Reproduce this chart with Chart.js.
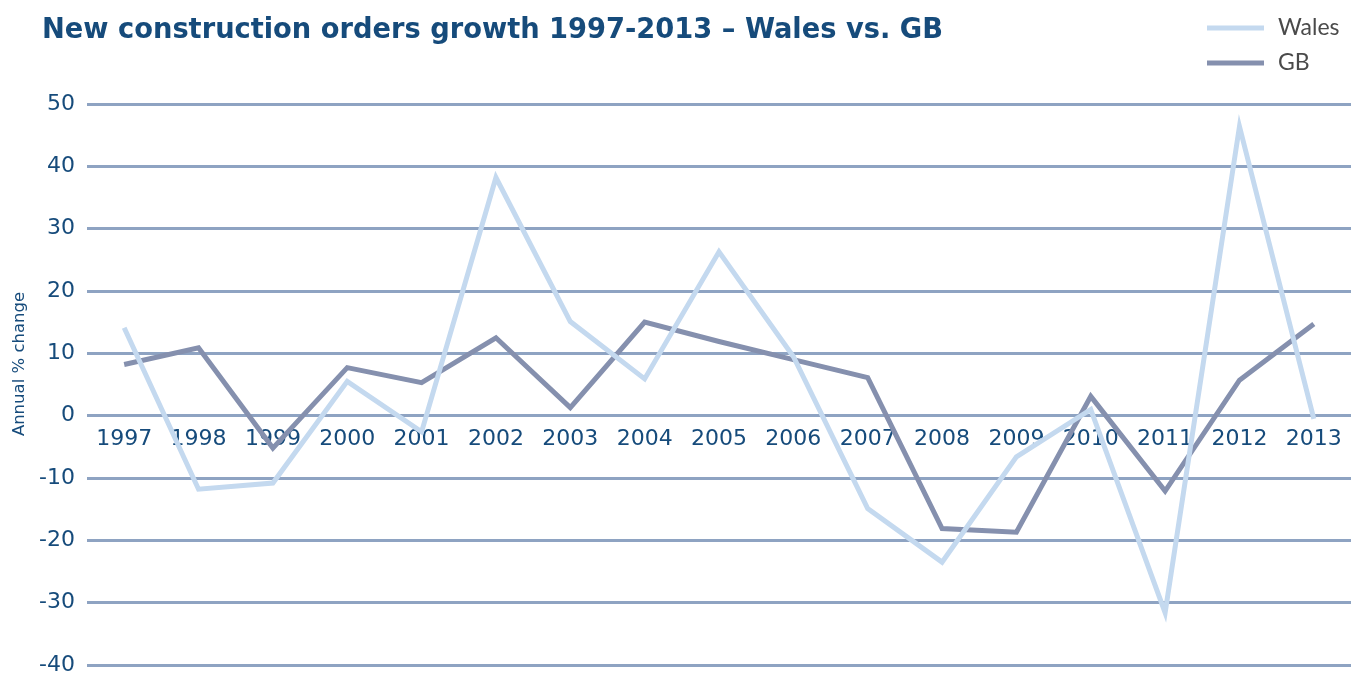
<!DOCTYPE html>
<html>
<head>
<meta charset="utf-8">
<script src="https://cdn.jsdelivr.net/npm/chart.js@4/dist/chart.umd.min.js"></script>
<style>
  html, body { margin: 0; padding: 0; background: #ffffff; }
  #wrap { position: relative; width: 1351px; height: 675px; }
</style>
</head>
<body>
<div id="wrap"><canvas id="chart" width="1351" height="675"></canvas></div>
<script>
// Annual % change in new construction orders
const years = ['1997', '1998', '1999', '2000', '2001', '2002', '2003', '2004', '2005',
               '2006', '2007', '2008', '2009', '2010', '2011', '2012', '2013'];
const wales = [14.1, -11.8, -10.8, 5.5, -2.6, 38.2, 15.1, 5.9, 26.3,
               9.5, -14.9, -23.5, -6.6, 1.0, -31.6, 46.4, -0.5];
const gb = [8.2, 10.9, -5.2, 7.7, 5.3, 12.5, 1.3, 15.0, 11.9,
            9.0, 6.1, -18.1, -18.7, 3.1, -12.1, 5.7, 14.7];
const yTicks = [50, 40, 30, 20, 10, 0, -10, -20, -30, -40];

const titleText = 'New construction orders growth 1997-2013 \u2013 Wales vs. GB';
const yTitleText = 'Annual % change';

const NAVY = '#164b7b';
const WALES_COL = '#c4d9ef';
const GB_COL = '#8590ae';
const GRID_COL = '#8ea3c2';

// Title, rotated axis title and stacked legend drawn around the plot
const decorations = {
  id: 'decorations',
  afterDraw(chart) {
    const ctx = chart.ctx;
    ctx.save();

    // condensed bold title stretched across its line
    ctx.fillStyle = NAVY;
    ctx.font = 'bold 29px "DejaVu Sans Condensed", "Liberation Sans Narrow", "Liberation Sans", sans-serif';
    try { ctx.fontStretch = 'condensed'; } catch (e) {}
    ctx.textAlign = 'left';
    ctx.textBaseline = 'alphabetic';
    const w = ctx.measureText(titleText).width;
    ctx.save();
    ctx.translate(42, 38);
    ctx.scale(901 / w, 1);
    ctx.fillText(titleText, 0, 0);
    ctx.restore();
    try { ctx.fontStretch = 'normal'; } catch (e) {}

    ctx.save();
    ctx.translate(24, 364);
    ctx.rotate(-Math.PI / 2);
    ctx.font = '16.5px "DejaVu Sans", sans-serif';
    ctx.textAlign = 'center';
    ctx.textBaseline = 'alphabetic';
    ctx.fillText(yTitleText, 0, 0);
    ctx.restore();

    chart.data.datasets.forEach((ds, i) => {
      const cy = 28 + i * 35;
      ctx.strokeStyle = ds.borderColor;
      ctx.lineWidth = 5;
      ctx.beginPath();
      ctx.moveTo(1207, cy);
      ctx.lineTo(1264, cy);
      ctx.stroke();
      ctx.fillStyle = '#4a4a4a';
      ctx.font = '23px Lato, sans-serif';
      ctx.textAlign = 'left';
      ctx.textBaseline = 'middle';
      ctx.fillText(ds.label, 1278, cy);
    });
    ctx.restore();
  }
};

new Chart(document.getElementById('chart'), {
  type: 'line',
  data: {
    labels: years,
    datasets: [
      {
        label: 'Wales',
        data: wales,
        borderColor: WALES_COL,
        backgroundColor: WALES_COL,
        borderWidth: 5,
        pointRadius: 0,
        tension: 0,
        borderJoinStyle: 'miter',
        borderCapStyle: 'butt'
      },
      {
        label: 'GB',
        data: gb,
        borderColor: GB_COL,
        backgroundColor: GB_COL,
        borderWidth: 5,
        pointRadius: 0,
        tension: 0,
        borderJoinStyle: 'miter',
        borderCapStyle: 'butt'
      }
    ]
  },
  options: {
    responsive: false,
    animation: false,
    devicePixelRatio: 1,
    layout: { padding: { top: 104, bottom: 10, left: 36, right: 0 } },
    plugins: {
      legend: { display: false },
      title: { display: false },
      tooltip: { enabled: false }
    },
    scales: {
      x: {
        type: 'category',
        position: { y: 0 },
        offset: true,
        afterFit(scale) { scale.paddingLeft = 0; scale.paddingRight = 0; },
        grid: { display: false, drawTicks: false },
        border: { display: false },
        ticks: {
          color: NAVY,
          font: { family: '"DejaVu Sans", sans-serif', size: 22 },
          padding: 10,
          maxRotation: 0,
          autoSkip: false
        }
      },
      y: {
        min: -40,
        max: 50,
        afterFit(scale) { scale.width = 51; scale.paddingTop = 0; scale.paddingBottom = 0; },
        afterBuildTicks(scale) { scale.ticks = yTicks.map(v => ({ value: v })); },
        grid: { color: GRID_COL, lineWidth: 3, drawTicks: false },
        border: { display: false },
        ticks: {
          color: NAVY,
          font: { family: '"DejaVu Sans", sans-serif', size: 22 },
          padding: 12
        }
      }
    }
  },
  plugins: [decorations]
});
</script>
</body>
</html>
